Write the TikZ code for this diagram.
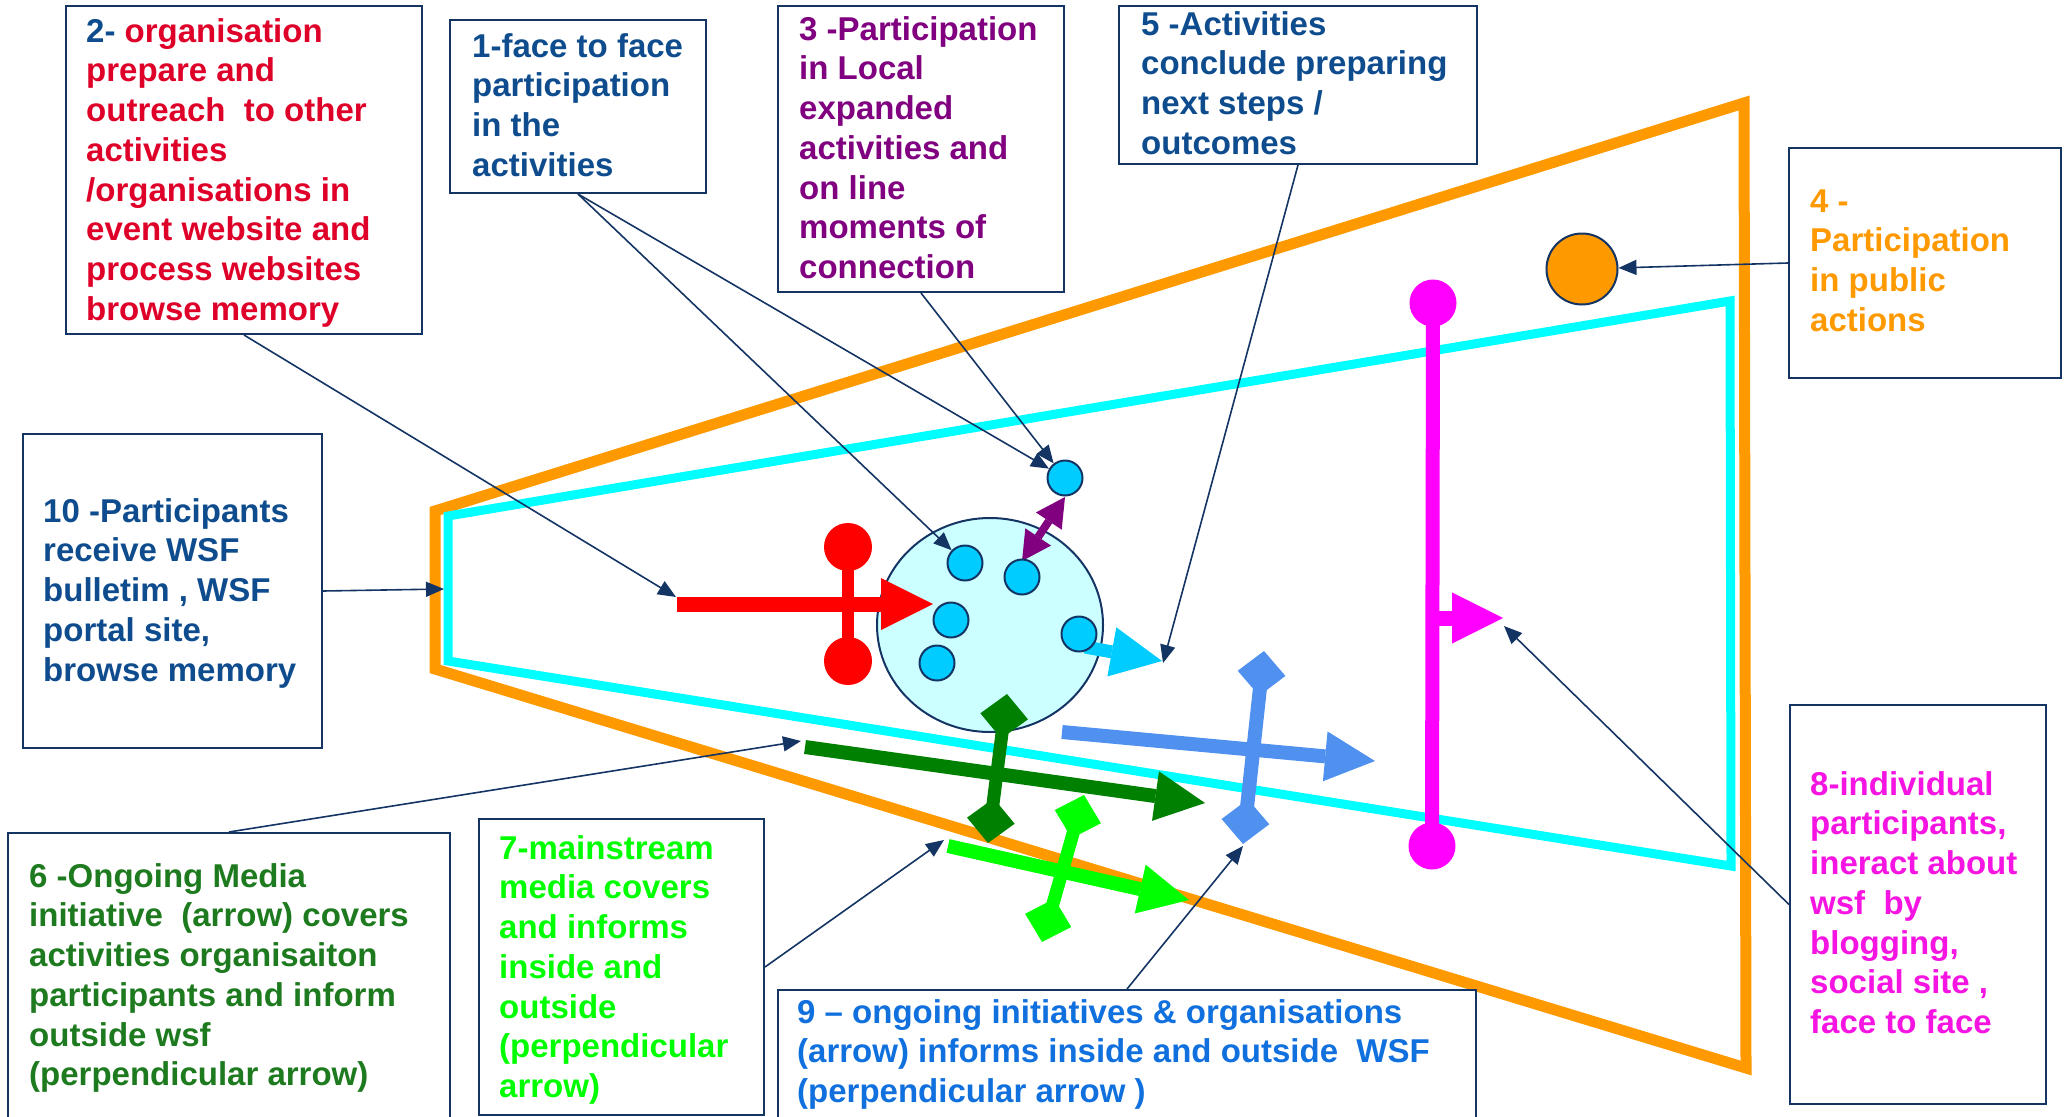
\documentclass[tikz,border=0pt]{standalone}
\usepackage{fontspec}
\setmainfont{Liberation Sans}
\usetikzlibrary{arrows.meta,shapes.geometric}
\definecolor{navy}{RGB}{20,52,100}
\definecolor{txtblue}{RGB}{14,76,142}
\definecolor{txtred}{RGB}{222,0,40}
\definecolor{txtpurple}{RGB}{128,0,128}
\definecolor{orng}{RGB}{255,153,0}
\definecolor{dkgreen}{RGB}{0,128,0}
\definecolor{txtgreen}{RGB}{30,122,30}
\definecolor{lgreen}{RGB}{0,255,0}
\definecolor{txtblueb}{RGB}{16,112,221}
\definecolor{arrblue}{RGB}{80,145,240}
\definecolor{cyanline}{RGB}{0,255,255}
\definecolor{ballcyan}{RGB}{0,204,255}
\definecolor{bigfill}{RGB}{204,255,255}
\definecolor{mag}{RGB}{255,0,255}
\definecolor{txtmag}{RGB}{245,20,225}
\begin{document}
\begin{tikzpicture}[x=1pt,y=-1pt,
  box/.style={draw=navy, line width=2pt, inner sep=0pt, anchor=north west},
  txt/.style={anchor=north west, inner sep=0pt, align=left, font=\fontsize{33}{39.7}\selectfont\bfseries},
  conn/.style={draw=navy, line width=1.6pt, -{Triangle[length=18pt,width=15pt]}},
  bhead/.style={-{Triangle[length=#1,width=#1,line width=0pt]}},
  dtips/.style={{Diamond[length=45pt,width=48pt,line width=0pt]}-{Diamond[length=45pt,width=48pt,line width=0pt]}},
  ball/.style={circle, draw=navy, line width=2pt, fill=ballcyan, minimum size=35pt, inner sep=0pt},
  knob/.style={circle, fill=#1, minimum size=48pt, inner sep=0pt}
]
\useasboundingbox (0,0) rectangle (2066,1116);
\clip (0,0) rectangle (2066,1116);

% frames
\draw[orng, line width=11pt, line join=miter] (435,511) -- (1744,103) -- (1746,1068) -- (435,669) -- cycle;
\draw[cyanline, line width=9pt, line join=miter] (448,516) -- (1730,301) -- (1731,866) -- (448,661) -- cycle;

% central ellipse
\node[ellipse, draw=navy, fill=bigfill, line width=2pt, minimum width=226pt, minimum height=214pt, inner sep=0pt] (big) at (990,625) {};

% red cross arrow
\node[knob=red] (rt) at (848,547) {};
\node[knob=red] (rb) at (848,661) {};
\draw[red, line width=12.5pt] (rt.center) -- (rb.center);
\coordinate (rA) at (677,604);
\coordinate (rB) at (933,604);
\draw[red, line width=15pt, bhead=52pt] (rA) -- (rB);

% cyan arrow and purple double arrow
\coordinate (cyA) at (1085,647);
\coordinate (cyB) at (1162,661);
\draw[ballcyan, line width=13pt, -{Triangle[length=51pt,width=50pt,line width=0pt]}] (cyA) -- (cyB);
\coordinate (pA) at (1022,561);
\coordinate (pB) at (1065,497);
\draw[txtpurple, line width=8pt, {Triangle[length=29pt,width=31pt,line width=0pt]}-{Triangle[length=29pt,width=31pt,line width=0pt]}] (pA) -- (pB);

% small circles
\node[ball] (c1) at (965,563) {};
\node[ball] (c2) at (1022,577) {};
\node[ball] (c3) at (951,620) {};
\node[ball] (c4) at (937,663) {};
\node[ball] (c5) at (1079,634) {};
\node[ball] (c6) at (1065,478) {};

% dark green cross arrow
\coordinate (dgA) at (805,747);
\coordinate (dgB) at (1205,803);
\coordinate (dgP) at (1007,694);
\coordinate (dgQ) at (988,843);
\draw[dkgreen, line width=14pt, bhead=50pt] (dgA) -- (dgB);
\draw[dkgreen, line width=13pt, dtips] (dgP) -- (dgQ);

% blue cross arrow
\coordinate (bA) at (1062,732);
\coordinate (bB) at (1375,761);
\coordinate (bP) at (1264,651);
\coordinate (bQ) at (1243,844);
\draw[arrblue, line width=14pt, bhead=50pt] (bA) -- (bB);
\draw[arrblue, line width=14pt, dtips] (bP) -- (bQ);

% light green cross arrow
\coordinate (lgA) at (948,846);
\coordinate (lgB) at (1189,900);
\coordinate (lgP) at (1084,795);
\coordinate (lgQ) at (1042,942);
\draw[lgreen, line width=14pt, bhead=50pt] (lgA) -- (lgB);
\draw[lgreen, line width=13pt, dtips] (lgP) -- (lgQ);

% magenta
\node[knob=mag, minimum size=47pt] (mt) at (1433,303) {};
\node[knob=mag, minimum size=47pt] (mb) at (1432,846) {};
\draw[mag, line width=14pt] (mt.center) -- (mb.center);
\coordinate (mA) at (1433,618);
\coordinate (mB) at (1503,618);
\draw[mag, line width=15pt, -{Triangle[length=51pt,width=51pt,line width=0pt]}] (mA) -- (mB);

% orange circle
\node[circle, draw=navy, line width=2pt, fill=orng, minimum size=71pt, inner sep=0pt] (oc) at (1582,269) {};

% boxes
\node[box, minimum width=356pt, minimum height=328pt] (b2) at (65,5) {};
\node[box, minimum width=256pt, minimum height=173pt] (b1) at (449,19) {};
\node[box, minimum width=286pt, minimum height=286pt] (b3) at (777,5) {};
\node[box, minimum width=358pt, minimum height=158pt] (b5) at (1118,5) {};
\node[box, minimum width=272pt, minimum height=230pt] (b4) at (1788,147) {};
\node[box, minimum width=299pt, minimum height=314pt] (b10) at (22,433) {};
\node[box, minimum width=442pt, minimum height=300pt] (b6) at (7,832) {};
\node[box, minimum width=285pt, minimum height=296pt] (b7) at (478,818) {};
\node[box, minimum width=698pt, minimum height=150pt] (b9) at (777,989) {};
\node[box, minimum width=256pt, minimum height=399pt] (b8) at (1789,704) {};

% texts
\node[txt, text=txtred] (t2) at (86,12) {\rule{0pt}{30pt}\textcolor{txtblue}{2-} organisation\\prepare and\\outreach~ to other\\activities\\/organisations in\\event website and\\process websites\\browse memory};
\node[txt, text=txtblue] (t1) at (472,27) {\rule{0pt}{30pt}1-face to face\\participation\\in the\\activities};
\node[txt, text=txtpurple] (t3) at (799,10) {\rule{0pt}{30pt}3 -Participation\\in Local\\expanded\\activities and\\on line\\moments of\\connection};
\node[txt, text=txtblue] (t5) at (1141,5) {\rule{0pt}{30pt}5 -Activities\\conclude preparing\\next steps /\\outcomes};
\node[txt, text=orng] (t4) at (1810,182) {\rule{0pt}{30pt}4 -\\Participation\\in public\\actions};
\node[txt, text=txtblue] (t10) at (43,492) {\rule{0pt}{30pt}10 -Participants\\receive WSF\\bulletim , WSF\\portal site,\\browse memory};
\node[txt, text=txtgreen] (t6) at (29,857) {\rule{0pt}{30pt}6 -Ongoing Media\\initiative~ (arrow) covers\\activities organisaiton\\participants and inform\\outside wsf\\(perpendicular arrow)};
\node[txt, text=lgreen] (t7) at (499,829) {\rule{0pt}{30pt}7-mainstream\\media covers\\and informs\\inside and\\outside\\(perpendicular\\arrow)};
\node[txt, text=txtblueb] (t9) at (797,993) {\rule{0pt}{30pt}9 \textendash{} ongoing initiatives \& organisations\\(arrow) informs inside and outside~ WSF\\(perpendicular arrow )};
\node[txt, text=txtmag] (t8) at (1810,765) {\rule{0pt}{30pt}8-individual\\participants,\\ineract about\\wsf~ by\\blogging,\\social site ,\\face to face};

% connectors
\coordinate (k2) at (676,597);
\coordinate (k5) at (1163,663);
\coordinate (k10) at (444,589);
\coordinate (k6) at (801,741);
\coordinate (k7) at (944,840);
\coordinate (k9) at (1243,846);
\coordinate (k8) at (1504,626);
\draw[conn] (b2.south) -- (k2);
\draw[conn] (b1.south) -- (c1);
\draw[conn] (b1.south) -- (c6);
\draw[conn] (b3.south) -- (c6);
\draw[conn] (b5.south) -- (k5);
\draw[conn] (b4.west) -- (oc);
\draw[conn] (b10.east) -- (k10);
\draw[conn] (b6.north) -- (k6);
\draw[conn] (b7.east) -- (k7);
\draw[conn] (b9.north) -- (k9);
\draw[conn] (b8.west) -- (k8);
\end{tikzpicture}
\end{document}
